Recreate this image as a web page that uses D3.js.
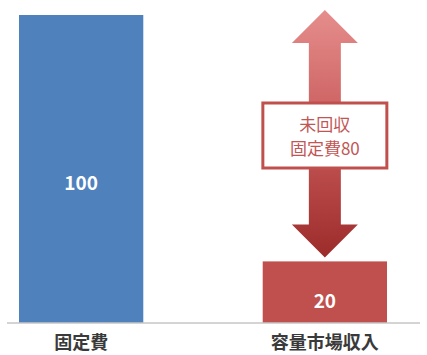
<!DOCTYPE html>
<html>
<head>
<meta charset="utf-8">
<script src="https://cdn.jsdelivr.net/npm/d3@7"></script>
<style>
  html, body { margin: 0; padding: 0; background: #ffffff; }
  svg { display: block; }
  text { font-family: "Noto Sans CJK JP", "Noto Sans", sans-serif; }
</style>
</head>
<body>
<svg id="chart" width="427" height="355"></svg>
<script>
// Fixed cost vs. capacity market revenue
const categories = ["固定費", "容量市場収入"];
const values = [100, 20];
const barColors = ["#4f81bd", "#c0504d"];
const gapLabel = ["未回収", "固定費80"];
const gapValue = 80;

const svg = d3.select("#chart");

const x = d3.scaleBand().domain(categories).range([19, 387]).paddingInner(0.49).paddingOuter(0);
const y = d3.scaleLinear().domain([0, 100]).range([323, 15]);

// Arrow gradient (light at top, dark at bottom)
const defs = svg.append("defs");
const grad = defs.append("linearGradient")
  .attr("id", "arrowGrad").attr("x1", 0).attr("y1", 0).attr("x2", 0).attr("y2", 1);
grad.append("stop").attr("offset", "0%").attr("stop-color", "#e58e8c");
grad.append("stop").attr("offset", "50%").attr("stop-color", "#c8595a");
grad.append("stop").attr("offset", "100%").attr("stop-color", "#9c2c2a");

// Bars
svg.selectAll("rect.bar")
  .data(categories)
  .join("rect")
  .attr("class", "bar")
  .attr("x", d => x(d))
  .attr("y", (d, i) => y(values[i]))
  .attr("width", x.bandwidth())
  .attr("height", (d, i) => y(0) - y(values[i]))
  .attr("fill", (d, i) => barColors[i]);

// Baseline
svg.append("line")
  .attr("x1", 7).attr("x2", 420)
  .attr("y1", y(0)).attr("y2", y(0))
  .attr("stroke", "#c6c6c6").attr("stroke-width", 1.5);

// Value labels inside bars
svg.selectAll("text.val")
  .data(categories)
  .join("text")
  .attr("class", "val")
  .attr("x", d => x(d) + x.bandwidth() / 2)
  .attr("y", (d, i) => i === 0 ? 190 : 308)
  .attr("text-anchor", "middle")
  .attr("fill", "#ffffff")
  .attr("font-size", 19)
  .attr("font-weight", "bold")
  .text((d, i) => values[i]);

// Category labels
svg.selectAll("text.cat")
  .data(categories)
  .join("text")
  .attr("class", "cat")
  .attr("x", d => x(d) + x.bandwidth() / 2)
  .attr("y", 349)
  .attr("text-anchor", "middle")
  .attr("fill", "#3a3a3a")
  .attr("font-size", 18)
  .attr("font-weight", "bold")
  .text(d => d);

// Double-headed arrow spanning the unrecovered gap
const cx = x(categories[1]) + x.bandwidth() / 2;
const topV = values[0];
const yTop = y(topV) - 5;
const yBot = y(topV - gapValue) - 4;
const headH = 33, headW = 33, shaftW = 16;
const arrowPts = [
  [cx, yTop],
  [cx + headW, yTop + headH],
  [cx + shaftW, yTop + headH],
  [cx + shaftW, yBot - headH],
  [cx + headW, yBot - headH],
  [cx, yBot],
  [cx - headW, yBot - headH],
  [cx - shaftW, yBot - headH],
  [cx - shaftW, yTop + headH],
  [cx - headW, yTop + headH]
];
svg.append("path")
  .attr("d", d3.line()(arrowPts) + "Z")
  .attr("fill", "url(#arrowGrad)");

// Label box on the arrow
const boxW = 124, boxH = 65, boxY = 103;
svg.append("rect")
  .attr("x", cx - boxW / 2).attr("y", boxY)
  .attr("width", boxW).attr("height", boxH)
  .attr("fill", "#ffffff")
  .attr("stroke", "#c0504d").attr("stroke-width", 3);

svg.selectAll("text.gap")
  .data(gapLabel)
  .join("text")
  .attr("class", "gap")
  .attr("x", cx)
  .attr("y", (d, i) => 131 + i * 24)
  .attr("text-anchor", "middle")
  .attr("fill", "#c25655")
  .attr("font-size", 17)
  .text(d => d);
</script>
</body>
</html>
